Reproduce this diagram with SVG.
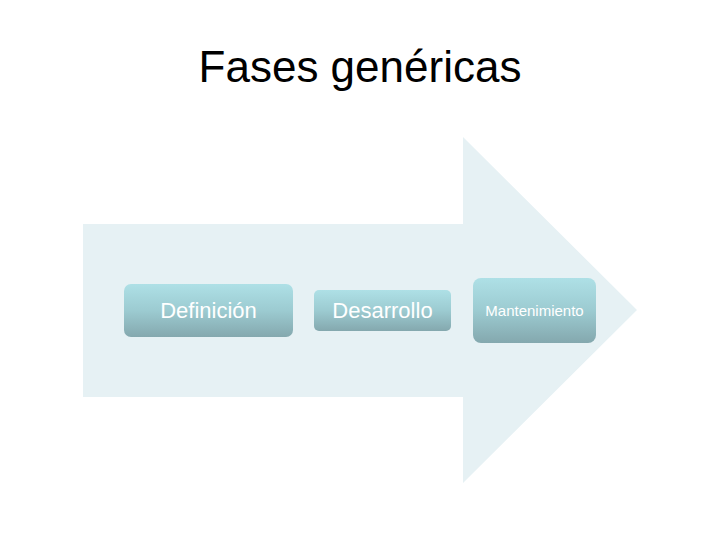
<svg xmlns="http://www.w3.org/2000/svg" width="720" height="540" viewBox="0 0 720 540">
<defs>
<linearGradient id="g" x1="0" y1="0" x2="0" y2="1">
<stop offset="0" stop-color="#aee0e6"/>
<stop offset="0.5" stop-color="#9ccbd1"/>
<stop offset="1" stop-color="#84a8ae"/>
</linearGradient>
</defs>
<style>
.box{fill:url(#g);}
.t{font-family:"Liberation Sans",Arial,sans-serif;fill:#fff;text-anchor:middle;}
</style>
<rect width="720" height="540" fill="#fff"/>
<text x="360" y="82" font-family="Liberation Sans,Arial,sans-serif" font-size="44" text-anchor="middle" fill="#000">Fases genéricas</text>
<polygon points="83,224 463,224 463,137 637,310 463,483 463,397 83,397" fill="#e6f1f4"/>
<g id="definicion"><rect class="box" x="124" y="284" width="169" height="53" rx="7"/><text class="t" x="208.5" y="318" font-size="22">Definición</text></g>
<g id="desarrollo"><rect class="box" x="314" y="290" width="137" height="41" rx="5"/><text class="t" x="382.5" y="318" font-size="22">Desarrollo</text></g>
<g id="mantenimiento"><rect class="box" x="473" y="278" width="123" height="65" rx="8"/><text class="t" x="534.5" y="316" font-size="15">Mantenimiento</text></g>
<g id="connectors"/>
</svg>
